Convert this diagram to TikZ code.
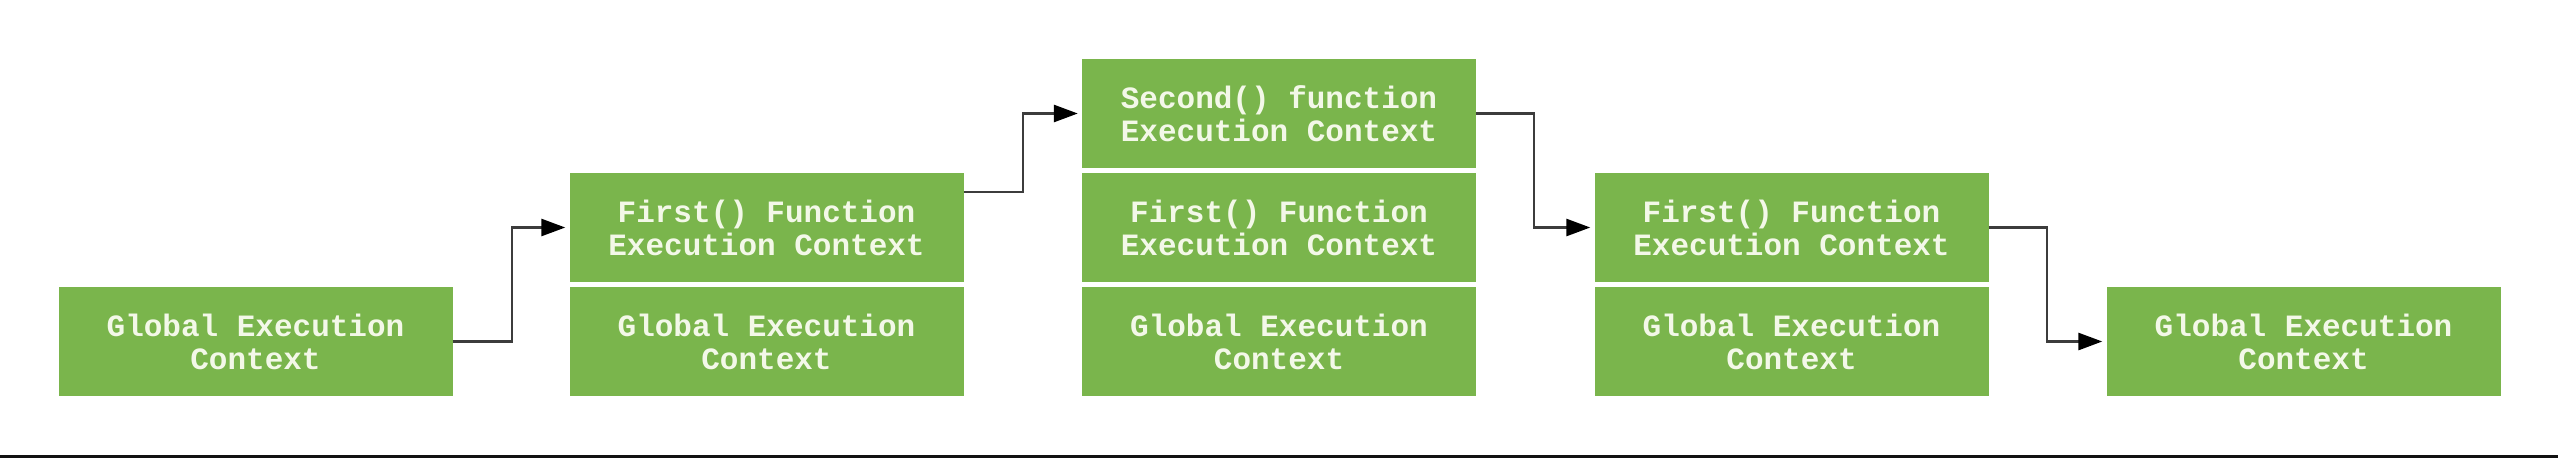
\documentclass[tikz,border=0pt]{standalone}
\usepackage{fontspec}
\setmonofont{Liberation Mono}
\usetikzlibrary{arrows.meta}
\definecolor{boxgreen}{RGB}{122,181,76}
\definecolor{boxtext}{RGB}{243,248,232}
\definecolor{linegray}{RGB}{60,60,60}
\begin{document}
\begin{tikzpicture}[x=1pt,y=-1pt,
  ctx/.style={fill=boxgreen, draw=none, minimum width=394pt, minimum height=109pt,
    inner sep=0pt, align=center, text=boxtext,
    font=\ttfamily\bfseries\fontsize{31}{33}\selectfont},
  arr/.style={draw=linegray, line width=2.8pt,
    -{Triangle[length=24pt,width=17pt,fill=black,color=black]}, shorten >=4pt}]
\useasboundingbox (0,0) rectangle (2558,458);
\fill[white] (0,0) rectangle (2558,458);
% stacks
\node[ctx] (g1) at (255.5,341.5) {Global Execution\\Context};
\node[ctx] (s2a) at (766.5,227.5) {First() Function\\Execution Context};
\node[ctx] (s2b) at (766.5,341.5) {Global Execution\\Context};
\node[ctx] (s3a) at (1279,113.5) {Second() function\\Execution Context};
\node[ctx] (s3b) at (1279,227.5) {First() Function\\Execution Context};
\node[ctx] (s3c) at (1279,341.5) {Global Execution\\Context};
\node[ctx] (s4a) at (1791.5,227.5) {First() Function\\Execution Context};
\node[ctx] (s4b) at (1791.5,341.5) {Global Execution\\Context};
\node[ctx] (g5) at (2303.5,341.5) {Global Execution\\Context};
% bend columns
\coordinate (k1) at (512,0);
\coordinate (k2) at (1023,0);
\coordinate (k3) at (1534,0);
\coordinate (k4) at (2047,0);
\coordinate (a2s) at ([yshift=35.5pt]s2a.east);
% connectors
\draw[arr] (g1.east) -- (g1.east -| k1) |- (s2a.west);
\draw[arr] (a2s) -- (a2s -| k2) |- (s3a.west);
\draw[arr] (s3a.east) -- (s3a.east -| k3) |- (s4a.west);
\draw[arr] (s4a.east) -- (s4a.east -| k4) |- (g5.west);
% bottom rule
\fill[black!93] (0,455.3) rectangle (2558,458);
\end{tikzpicture}
\end{document}
